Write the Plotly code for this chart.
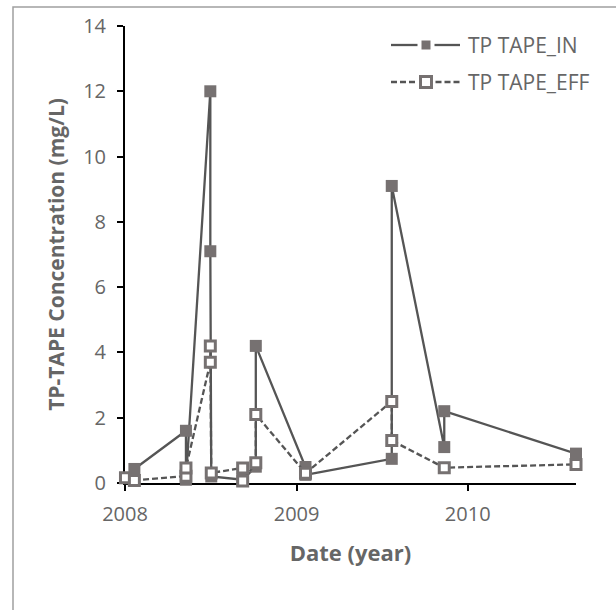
import plotly.graph_objects as go

# Sampling dates and total phosphorus (TP-TAPE) concentrations, mg/L
dates_in = ["2008-01-21", "2008-05-10", "2008-05-10", "2008-07-01", "2008-07-01",
            "2008-07-03", "2008-09-08", "2008-10-06", "2008-10-06", "2009-01-20",
            "2009-01-20", "2009-07-23", "2009-07-23", "2009-11-12", "2009-11-12",
            "2010-08-20"]
tp_in = [0.43, 1.6, 0.1, 12.0, 7.1, 0.2, 0.1, 0.5, 4.2, 0.49, 0.25, 0.74, 9.1,
         1.1, 2.2, 0.9]

dates_eff = ["2008-01-02", "2008-01-21", "2008-05-10", "2008-05-10", "2008-07-01",
             "2008-07-01", "2008-07-03", "2008-09-08", "2008-09-08", "2008-10-06",
             "2008-10-06", "2009-01-20", "2009-07-23", "2009-07-23", "2009-11-12",
             "2010-08-20"]
tp_eff = [0.16, 0.08, 0.21, 0.46, 3.7, 4.2, 0.31, 0.46, 0.06, 0.62, 2.1, 0.3,
          2.5, 1.3, 0.47, 0.57]

series_names = ["TP TAPE_IN", "TP TAPE_EFF"]
year_ticks = ["2008-01-01", "2009-01-01", "2010-01-01"]
year_labels = ["2008", "2009", "2010"]

W, H = 616, 610
ML, MR, MT, MB = 125, 40, 26, 127
PW, PH = W - ML - MR, H - MT - MB

MARK = "#767171"
LINE = "#555555"
TEXT = "#666666"
FONT = "Open Sans"
DASH = "6px,3px"


def px_x(px):
    return (px - ML) / PW


def px_y(py):
    return (H - MB - py) / PH


fig = go.Figure()

fig.add_trace(go.Scatter(
    x=dates_in, y=tp_in, name=series_names[0], showlegend=False,
    mode="lines+markers", cliponaxis=False,
    line=dict(color=LINE, width=2.3),
    marker=dict(symbol="square", size=12, color=MARK, line=dict(width=0)),
))

fig.add_trace(go.Scatter(
    x=dates_eff, y=tp_eff, name=series_names[1], showlegend=False,
    mode="lines+markers", cliponaxis=False,
    line=dict(color=LINE, width=2.3, dash=DASH),
    marker=dict(symbol="square", size=10, color="white",
                line=dict(color=MARK, width=3)),
))

axis_common = dict(
    showline=True, linecolor="black", linewidth=2,
    ticks="outside", tickcolor="black", ticklen=6, tickwidth=1.5,
    showgrid=False, zeroline=False, layer="below traces",
    tickfont=dict(family=FONT, size=20, color=TEXT),
)

fig.update_xaxes(
    type="date", range=["2008-01-01", "2010-08-20"],
    tickvals=year_ticks, ticktext=year_labels, ticklabelstandoff=6,
    title=dict(text="Date (year)", standoff=20,
               font=dict(family=FONT, size=22, color=TEXT, weight="bold")),
    **axis_common,
)

fig.update_yaxes(
    range=[0, 14], dtick=2, ticklabelstandoff=7,
    title=dict(text="TP-TAPE Concentration (mg/L)", standoff=13,
               font=dict(family=FONT, size=21, color=TEXT, weight="bold")),
    **axis_common,
)

# Legend drawn in paper space: line samples with a gap around each marker
shapes = [dict(
    type="rect", xref="paper", yref="paper", layer="below",
    x0=px_x(13), x1=px_x(W + 10), y0=px_y(7), y1=px_y(H + 10),
    line=dict(color="#a0a0a0", width=1.5), fillcolor="rgba(0,0,0,0)",
)]
annotations = []

legend_rows = [
    dict(name=series_names[0], y=45, dash="solid", fill=MARK, half=4.5, border=0),
    dict(name=series_names[1], y=82, dash=DASH, fill="white", half=5.5, border=3),
]
x_start, x_mid, x_end, x_text = 391, 426, 460, 466
for row in legend_rows:
    yc = row["y"]
    for a, b in ((x_start, x_mid - row["half"] - 4), (x_mid + row["half"] + 4, x_end)):
        shapes.append(dict(
            type="line", xref="paper", yref="paper",
            x0=px_x(a), x1=px_x(b), y0=px_y(yc), y1=px_y(yc),
            line=dict(color=LINE, width=2.3, dash=row["dash"]),
        ))
    h = row["half"]
    shapes.append(dict(
        type="rect", xref="paper", yref="paper",
        x0=px_x(x_mid - h), x1=px_x(x_mid + h),
        y0=px_y(yc + h), y1=px_y(yc - h),
        fillcolor=row["fill"],
        line=dict(color=MARK, width=row["border"]) if row["border"] else dict(width=0),
    ))
    annotations.append(dict(
        text=row["name"], xref="paper", yref="paper",
        x=px_x(x_text), y=px_y(yc), xanchor="left", yanchor="middle",
        showarrow=False, font=dict(family=FONT, size=21, color=TEXT),
    ))

fig.update_layout(
    width=W, height=H,
    margin=dict(l=ML, r=MR, t=MT, b=MB),
    paper_bgcolor="white", plot_bgcolor="white",
    showlegend=False,
    shapes=shapes,
    annotations=annotations,
)

fig.write_html("out.html")
